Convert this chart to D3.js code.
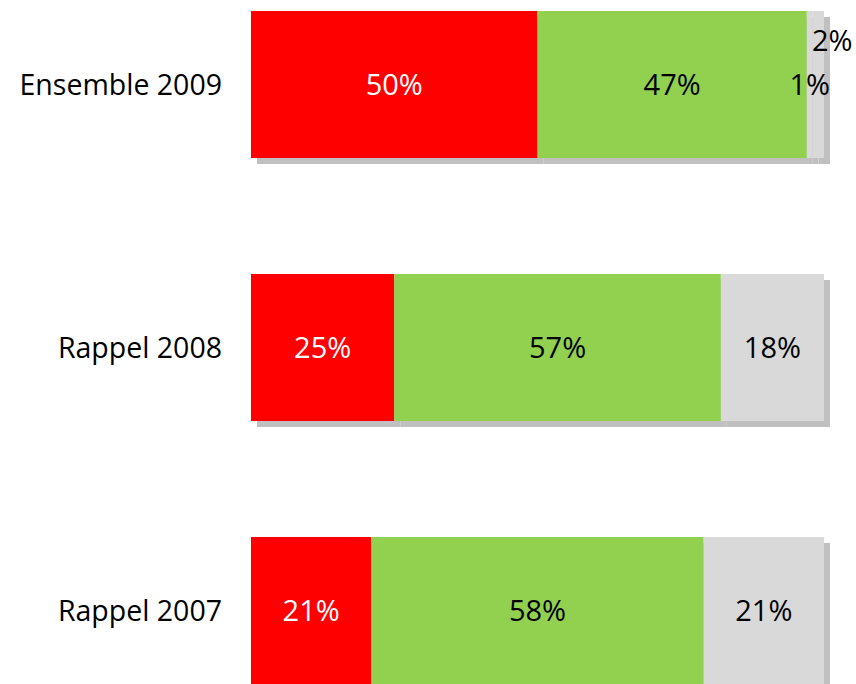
<!DOCTYPE html>
<html>
<head>
<meta charset="utf-8">
<script src="https://cdn.jsdelivr.net/npm/d3@7"></script>
<style>
  body { margin: 0; background: #fff; }
  text { font-family: "Open Sans", "Noto Sans", sans-serif; }
</style>
</head>
<body>
<svg id="chart" width="856" height="684"></svg>
<script>
// categories, top to bottom
const categories = ["Ensemble 2009", "Rappel 2008", "Rappel 2007"];

// series values (percent), one value per category
const seriesA = [50, 25, 21];
const seriesB = [47, 57, 58];
const seriesC = [1, 0, 0];
const seriesD = [2, 18, 21];

const seriesList = [seriesA, seriesB, seriesC, seriesD];
const fills = ["#ff0000", "#92d050", "#d9d9d9", "#d9d9d9"];
const labelColors = ["#ffffff", "#000000", "#000000", "#000000"];

const svg = d3.select("#chart");

const x = d3.scaleLinear().domain([0, 100]).range([251, 824]);
const y = d3.scaleBand().domain(categories).range([11, 684]).paddingInner(0.441).paddingOuter(0);

// build stacked segments
let segments = [];
categories.forEach((cat, i) => {
    let start = 0;
    seriesList.forEach((s, k) => {
        let v = s[i];
        if (v > 0) {
            segments.push({cat: cat, k: k, x0: start, x1: start + v, v: v});
        }
        start += v;
    });
});

const bars = svg.append("g");
// shadow then bar for each segment, in series order
segments.forEach(d => {
    bars.append("rect")
        .attr("x", x(d.x0) + 6)
        .attr("y", y(d.cat) + 6)
        .attr("width", x(d.x1) - x(d.x0))
        .attr("height", y.bandwidth())
        .attr("fill", "#c0c0c0");
    bars.append("rect")
        .attr("x", x(d.x0))
        .attr("y", y(d.cat))
        .attr("width", x(d.x1) - x(d.x0))
        .attr("height", y.bandwidth())
        .attr("fill", fills[d.k]);
});

// value labels; tiny segments get nudged so they don't collide
const labels = svg.append("g").attr("font-size", 29).attr("font-weight", 500);
segments.forEach((d, i) => {
    let cx = (x(d.x0) + x(d.x1)) / 2;
    let cy = y(d.cat) + y.bandwidth() / 2;
    let prev = segments[i - 1];
    if (d.v < 3 && prev && prev.cat === d.cat && prev.v < 3) {
        cx += 14;
        cy -= 44;
    }
    labels.append("text")
        .attr("x", cx)
        .attr("y", cy)
        .attr("dy", "0.36em")
        .attr("text-anchor", "middle")
        .attr("fill", labelColors[d.k])
        .text(d.v + "%");
});

// category labels
svg.append("g")
    .attr("font-size", 28.5)
    .selectAll("text")
    .data(categories)
    .enter()
    .append("text")
    .attr("x", 222)
    .attr("y", d => y(d) + y.bandwidth() / 2)
    .attr("dy", "0.36em")
    .attr("text-anchor", "end")
    .attr("fill", "#000")
    .text(d => d);
</script>
</body>
</html>
